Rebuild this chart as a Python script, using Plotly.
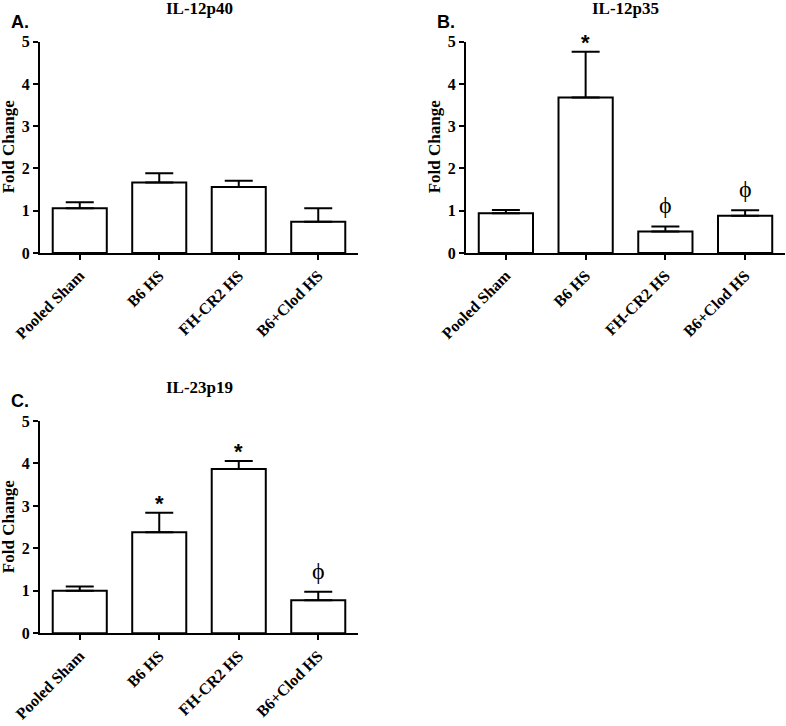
import plotly.graph_objects as go

categories = ["Pooled Sham", "B6 HS", "FH-CR2 HS", "B6+Clod HS"]

# Panel A: IL-12p40
a_values = [1.06, 1.67, 1.56, 0.74]
a_errors = [0.14, 0.22, 0.15, 0.32]
a_marks = ["", "", "", ""]

# Panel B: IL-12p35
b_values = [0.94, 3.68, 0.51, 0.88]
b_errors = [0.08, 1.08, 0.12, 0.13]
b_marks = ["", "*", "ϕ", "ϕ"]

# Panel C: IL-23p19
c_values = [1.00, 2.38, 3.87, 0.78]
c_errors = [0.10, 0.46, 0.19, 0.20]
c_marks = ["", "*", "*", "ϕ"]

titles = ["IL-12p40", "IL-12p35", "IL-23p19"]
panel_labels = ["A.", "B.", "C."]
y_title = "Fold Change"
y_ticks = [0, 1, 2, 3, 4, 5]

W, H = 786, 726
SERIF = "Liberation Serif"
SANS = "Liberation Sans"

def px(x):
    return x / W

def py(y):
    return 1 - y / H

panels = [
    dict(values=a_values, errors=a_errors, marks=a_marks, xd=(40, 358), yd=(41.7, 253.0)),
    dict(values=b_values, errors=b_errors, marks=b_marks, xd=(466, 785), yd=(41.7, 253.0)),
    dict(values=c_values, errors=c_errors, marks=c_marks, xd=(40, 358), yd=(421.0, 633.3)),
]

fig = go.Figure()
annotations = []
layout = {}

for i, p in enumerate(panels):
    n = "" if i == 0 else str(i + 1)
    xa, ya = "x" + n, "y" + n
    fig.add_trace(go.Bar(
        x=list(range(len(categories))), y=p["values"],
        xaxis=xa, yaxis=ya, width=0.68,
        marker=dict(color="white", line=dict(color="black", width=2)),
        error_y=dict(type="data", array=p["errors"], arrayminus=[0] * len(categories),
                     symmetric=False, color="black", thickness=2, width=14),
        showlegend=False, hoverinfo="skip",
    ))
    x0, x1 = p["xd"]
    yt, yb = p["yd"]
    layout["xaxis" + n] = dict(
        domain=[px(x0), px(x1)], anchor=ya, range=[-0.5, 3.5], automargin=False,
        tickmode="array", tickvals=list(range(len(categories))), ticktext=categories,
        tickangle=-45, ticks="outside", ticklen=5, tickwidth=2, tickcolor="black",
        showline=True, linewidth=2, linecolor="black", showgrid=False, zeroline=False,
        tickfont=dict(family=SERIF, size=16, color="black", weight="bold"),
        fixedrange=True,
    )
    layout["yaxis" + n] = dict(
        domain=[py(yb), py(yt)], anchor=xa, range=[0, 5], automargin=False,
        tickmode="array", tickvals=y_ticks,
        ticks="outside", ticklen=5, tickwidth=2, tickcolor="black",
        showline=True, linewidth=2, linecolor="black", showgrid=False, zeroline=False,
        tickfont=dict(family=SERIF, size=16, color="black", weight="bold"),
        fixedrange=True,
    )
    # y axis title
    annotations.append(dict(
        text=y_title, xref="paper", yref="paper", textangle=-90,
        x=px(x0 - 32), y=py((yt + yb) / 2), xanchor="center", yanchor="middle",
        showarrow=False, font=dict(family=SERIF, size=17, color="black", weight="bold"),
    ))
    # panel title
    annotations.append(dict(
        text=titles[i], xref="paper", yref="paper",
        x=px((x0 + x1) / 2), y=py(yt - 33), xanchor="center", yanchor="middle",
        showarrow=False, font=dict(family=SERIF, size=17, color="black", weight="bold"),
    ))
    # panel label
    annotations.append(dict(
        text=panel_labels[i], xref="paper", yref="paper",
        x=px(x0 - 31), y=py(yt - 20), xanchor="left", yanchor="middle",
        showarrow=False, font=dict(family=SANS, size=18, color="black", weight="bold"),
    ))
    # significance marks
    for j, m in enumerate(p["marks"]):
        if not m:
            continue
        top = p["values"][j] + p["errors"][j]
        if m == "*":
            annotations.append(dict(
                text=m, xref=xa, yref=ya, x=j, y=top, xanchor="center", yanchor="middle",
                yshift=9, showarrow=False,
                font=dict(family=SANS, size=22, color="black", weight="bold"),
            ))
        else:
            annotations.append(dict(
                text=m, xref=xa, yref=ya, x=j, y=top, xanchor="center", yanchor="middle",
                yshift=21, showarrow=False,
                font=dict(family=SERIF, size=24, color="black"),
            ))

fig.update_layout(
    width=W, height=H, margin=dict(l=0, r=0, t=0, b=0),
    paper_bgcolor="white", plot_bgcolor="white",
    annotations=annotations, bargap=0.32, **layout,
)

fig.write_html(
    "out.html",
    config={"displayModeBar": False, "staticPlot": True},
    post_script="document.body.style.margin='0';document.body.style.overflow='hidden';",
)
